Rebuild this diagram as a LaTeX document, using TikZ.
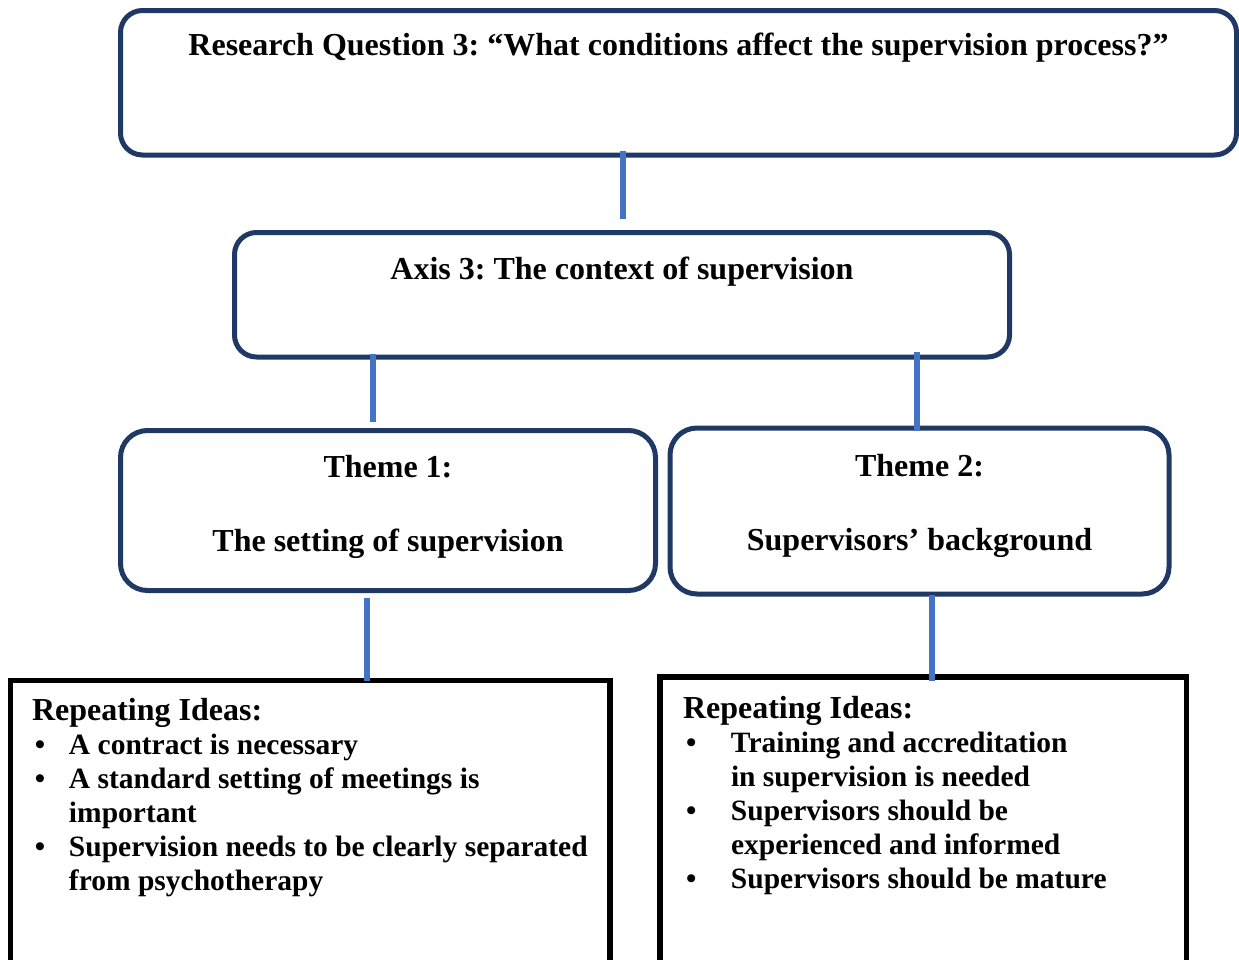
\documentclass[tikz,border=0pt]{standalone}
\usepackage{fontspec}
\setmainfont{Liberation Serif}
\usetikzlibrary{calc}
\definecolor{navy}{HTML}{1F3864}
\definecolor{linkblue}{HTML}{4472C4}
\frenchspacing

\tikzset{
  headbox/.style={draw=navy, line width=5pt, rounded corners=22pt, inner sep=0pt, outer sep=0pt},
  themebox/.style={headbox, rounded corners=27pt},
  ideabox/.style={draw=black, line width=5.5pt, inner sep=0pt, outer sep=0pt},
  conn/.style={draw=linkblue, line width=5.5pt},
}
\newcommand{\headfont}{\fontsize{32}{37}\selectfont\bfseries}
\newcommand{\themefont}{\fontsize{32}{74}\selectfont\bfseries}
\newcommand{\itemfont}{\fontsize{29.5}{34}\selectfont\bfseries}
% fixed-size text panel: width, height, content
\newcommand{\panel}[3]{\begin{minipage}[t][#2][t]{#1}\frenchspacing#3\end{minipage}}
% bullet line: indent, bullet box width, text
\newcommand{\bul}[3]{\hspace*{#1}\makebox[#2][l]{•}#3\par}
\newcommand{\cont}[2]{\hspace*{#1}#2\par}

\begin{document}
\begin{tikzpicture}[x=1pt,y=-1pt]
\useasboundingbox (0,0) rectangle (1239,959);
\clip (0,0) rectangle (1239,959);

% research question
\node[headbox] (rq) at (678.5,82.75)
  {\panel{1116pt}{144.5pt}{\centering\headfont\rule{0pt}{44.5pt}Research Question 3: “What conditions affect the supervision process?”\par}};

% axis
\node[headbox] (axis) at (622,294.75)
  {\panel{775pt}{124.5pt}{\centering\headfont\rule{0pt}{46.8pt}Axis 3: The context of supervision\par}};

% themes
\node[themebox] (th1) at (388,510.5)
  {\panel{535pt}{160pt}{\centering\themefont\rule{0pt}{46.5pt}Theme 1:\par The setting of supervision\par}};
\node[themebox] (th2) at (919.5,511)
  {\panel{499pt}{166pt}{\centering\themefont\rule{0pt}{48pt}Theme 2:\par Supervisors’ background\par}};

% repeating ideas
\node[ideabox] (ri1) at (310.25,840.25)
  {\panel{599.5pt}{319.5pt}{\raggedright\itemfont
    \rule{0pt}{39.5pt}\hspace*{21.5pt}{\headfont Repeating Ideas:}\par
    \bul{24.5pt}{34pt}{A contract is necessary}
    \bul{24.5pt}{34pt}{A standard setting of meetings is}
    \cont{58.5pt}{important}
    \bul{24.5pt}{34pt}{Supervision needs to be clearly separated}
    \cont{58.5pt}{from psychotherapy}}};
\node[ideabox] (ri2) at (923.25,838.5)
  {\panel{526.5pt}{323pt}{\raggedright\itemfont
    \rule{0pt}{41.5pt}\hspace*{23pt}{\headfont Repeating Ideas:}\par
    \bul{26pt}{45pt}{Training and accreditation}
    \cont{71pt}{in supervision is needed}
    \bul{26pt}{45pt}{Supervisors should be}
    \cont{71pt}{experienced and informed}
    \bul{26pt}{45pt}{Supervisors should be mature}}};

% connectors
\draw[conn] ($(rq.south -| axis.north)+(1,-4)$) -- ($(axis.north)+(1,-13.5)$);
\draw[conn] ($(axis.south -| th1.north)+(-15,-3)$) -- ($(th1.north)+(-15,-8.5)$);
\draw[conn] ($(axis.south -| th2.north)+(-2.5,-5)$) -- ($(th2.north)+(-2.5,3)$);
\draw[conn] ($(th1.south)+(-21,7.5)$) -- ($(th1.south |- ri1.north)+(-21,0.5)$);
\draw[conn] ($(th2.south)+(12.5,1)$) -- ($(th2.south |- ri2.north)+(12.5,4)$);
\end{tikzpicture}
\end{document}
